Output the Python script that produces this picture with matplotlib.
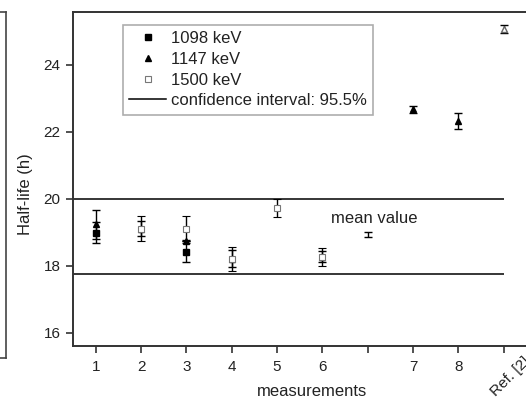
import matplotlib
matplotlib.use("Agg")
import matplotlib.pyplot as plt
from matplotlib.lines import Line2D
from matplotlib.transforms import ScaledTranslation

plt.rcParams['font.family'] = ['Liberation Sans', 'DejaVu Sans']

# ---- data ----
positions = [1, 2, 3, 4, 5, 6, 7, 8, 9, 10]
tick_labels = ['1', '2', '3', '4', '5', '6', '', '7', '8', 'Ref. [2]']

x_1098 = [1, 3]
y_1098 = [18.98, 18.42]
e_1098 = [0.31, 0.30]

x_1147 = [1, 2, 3, 4, 6, 8, 9]
y_1147 = [19.23, 19.10, 18.72, 18.21, 18.27, 22.66, 22.32]
e_1147 = [0.43, 0.23, 0.05, 0.26, 0.17, 0.10, 0.24]

x_1500 = [2, 3, 4, 5, 6]
y_1500 = [19.10, 19.10, 18.20, 19.72, 18.27]
e_1500 = [0.37, 0.37, 0.37, 0.27, 0.27]

x_mean = [7]
y_mean = [18.92]
e_mean = [0.07]

x_ref = [10]
y_ref = [25.05]
e_ref = [0.12]

ci_upper = 20.0
ci_lower = 17.75

# ---- figure ----
fig = plt.figure(figsize=(5.26, 4.01), dpi=100)
ax = fig.add_axes([73/526, (401-346)/401, (551-73)/526, (346-12)/401])

eb = dict(color='black', ecolor='black', elinewidth=1.0, capsize=2.8, capthick=1.0, linestyle='none')

ax.errorbar(x_1147, y_1147, yerr=e_1147, marker='^', markersize=4.5,
            markerfacecolor='black', markeredgecolor='black', label='1147 keV', **eb)
ax.errorbar(x_1098, y_1098, yerr=e_1098, marker='s', markersize=4,
            markerfacecolor='black', markeredgecolor='black', label='1098 keV', **eb)
ax.errorbar(x_1500, y_1500, yerr=e_1500, marker='s', markersize=4,
            markerfacecolor='white', markeredgecolor='#777777', markeredgewidth=0.8,
            label='1500 keV', **eb)
ax.errorbar(x_mean, y_mean, yerr=e_mean, marker='', **eb)
ax.errorbar(x_ref, y_ref, yerr=e_ref, marker='^', markersize=4,
            markerfacecolor='white', markeredgecolor='#666666', **eb)

x0 = 0.5
ax.hlines([ci_upper, ci_lower], x0, positions[-1], colors='black', linewidth=1.1)

ax.text(7.14, 19.4, 'mean value', ha='center', va='center', fontsize=12, color='#222222')

ax.set_xlim(x0, 11.04)
ax.set_ylim(15.6, 25.57)
ax.set_xticks(positions)
ax.set_xticklabels(tick_labels)
ax.set_yticks([16, 18, 20, 22, 24])

for s in ax.spines.values():
    s.set_linewidth(1.4)
    s.set_color('#333333')
ax.tick_params(direction='out', length=5, width=1.2, color='#333333',
               labelsize=11, labelcolor='#222222')
ax.tick_params(axis='x', pad=5)
ax.tick_params(axis='y', pad=4)

reflab = ax.get_xticklabels()[-1]
reflab.set_rotation(45)
reflab.set_ha('center')
reflab.set_transform(reflab.get_transform() + ScaledTranslation(0.07, 0.06, fig.dpi_scale_trans))

ax.set_xlabel('measurements', fontsize=12, color='#222222')
ax.xaxis.label.set_va('center')
ax.xaxis.set_label_coords(0.5, -(392-346)/334)
ax.set_ylabel('Half-life (h)', fontsize=12, color='#222222')
ax.yaxis.label.set_va('center')
ax.yaxis.set_label_coords((25.5-73)/478, 1-(194.6-12)/334)

handles = [
    Line2D([], [], marker='s', markersize=4, color='black', linestyle='none'),
    Line2D([], [], marker='^', markersize=4.5, color='black', linestyle='none'),
    Line2D([], [], marker='s', markersize=4, markerfacecolor='white',
           markeredgecolor='#777777', markeredgewidth=0.8, linestyle='none'),
    Line2D([], [], color='black', linewidth=1.1),
]
labels = ['1098 keV', '1147 keV', '1500 keV', 'confidence interval: 95.5%']
leg = ax.legend(handles, labels, loc='upper left',
                bbox_to_anchor=((123-73)/478, 1-(25-12)/334),
                borderaxespad=0, fontsize=12, frameon=True, fancybox=False,
                edgecolor='#999999', handlelength=2.2, handletextpad=0.3,
                labelspacing=0.34, borderpad=0.38)
leg.get_frame().set_linewidth(1.2)
for t in leg.get_texts():
    t.set_color('#222222')

# fragment of neighbouring panel at left edge
fx = 5.7/526
fig.add_artist(Line2D([fx, fx], [1-12/401, 1-358/401], transform=fig.transFigure,
                      color='#444444', linewidth=1.2))
fig.add_artist(Line2D([0, fx], [1-12/401, 1-12/401], transform=fig.transFigure,
                      color='#444444', linewidth=1.2))
fig.add_artist(Line2D([0, fx], [1-358/401, 1-358/401], transform=fig.transFigure,
                      color='#444444', linewidth=1.2))

fig.savefig('out.png', dpi=100)
